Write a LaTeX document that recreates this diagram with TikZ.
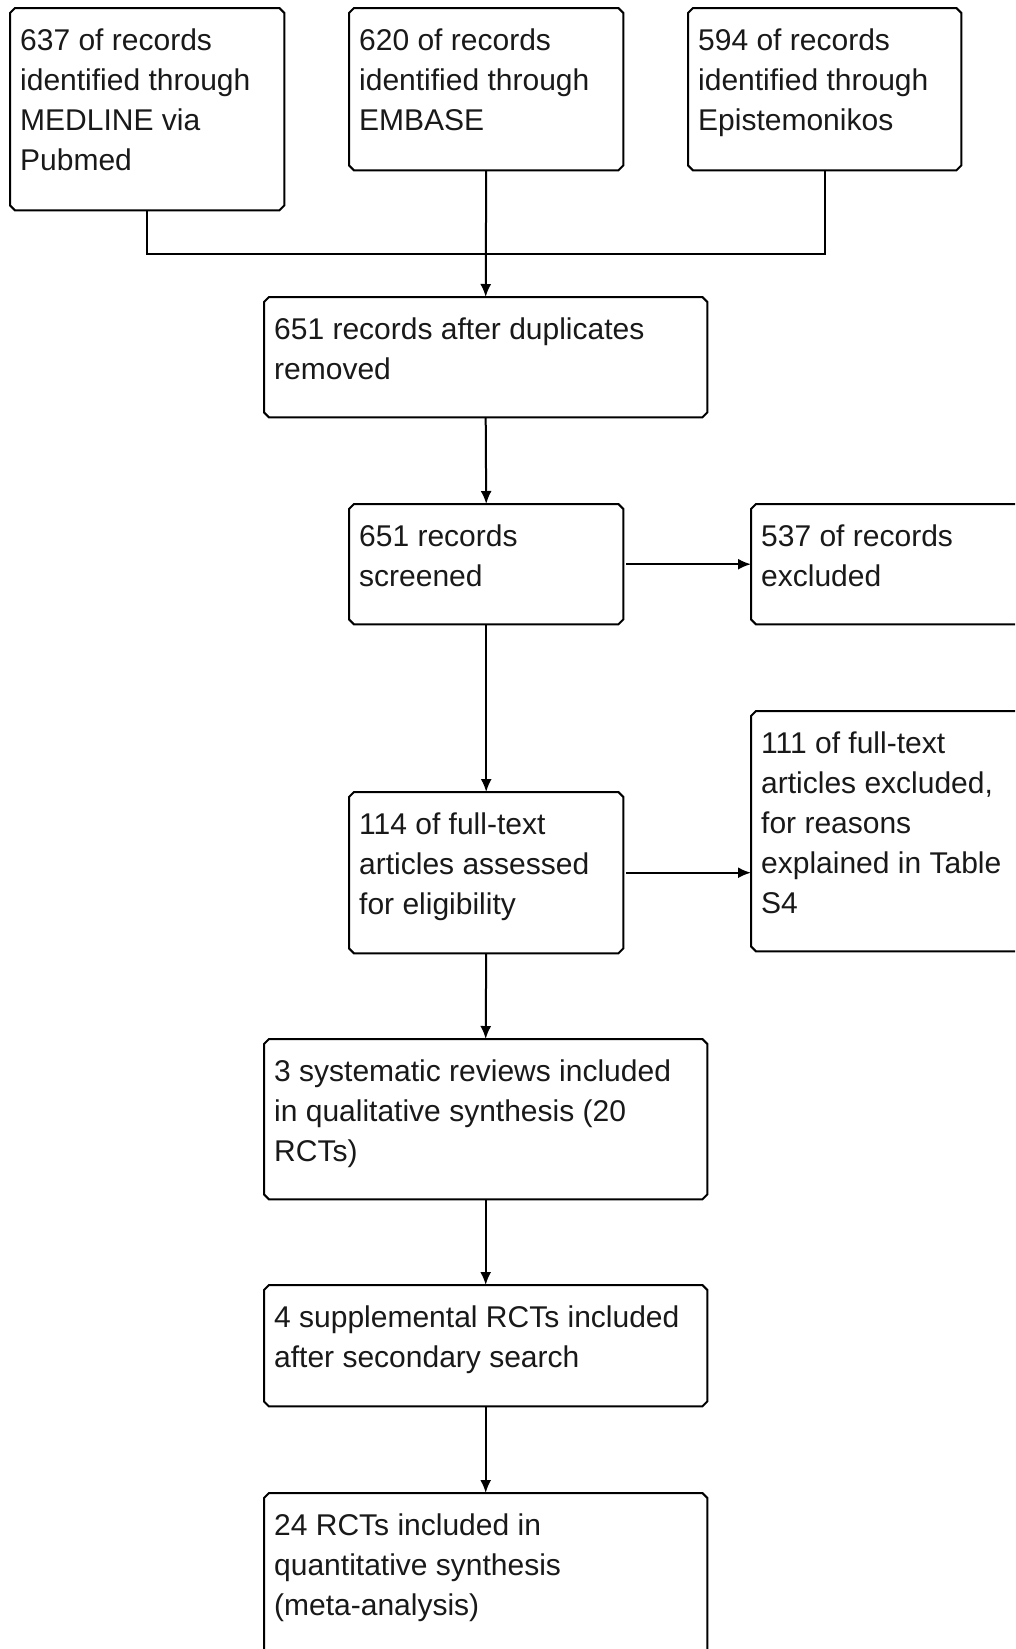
\documentclass[tikz,border=0pt]{standalone}
\usepackage{fontspec}
\setmainfont{Liberation Sans}
\usetikzlibrary{arrows.meta}
\tikzset{
  rec/.style={rectangle, inner sep=0pt, anchor=north west,
    append after command={\pgfextra{
      \draw[line width=2pt, draw=black, line join=miter]
        ([xshift=5pt]\tikzlastnode.north west) -- ([xshift=-5pt]\tikzlastnode.north east)
        -- ([yshift=-5pt]\tikzlastnode.north east) -- ([yshift=5pt]\tikzlastnode.south east)
        -- ([xshift=-5pt]\tikzlastnode.south east) -- ([xshift=5pt]\tikzlastnode.south west)
        -- ([yshift=5pt]\tikzlastnode.south west) -- ([yshift=-5pt]\tikzlastnode.north west)
        -- cycle;}}},
  txt/.style={anchor=base west, inner sep=0pt,
    font=\fontsize{30}{40}\selectfont, text=black!90},
  arr/.style={-{Latex[length=13pt,width=11pt]}, line width=2pt, draw=black},
  link/.style={line width=2pt, draw=black},
}
\newcommand{\boxlines}[1]{\begin{tabular}[t]{@{}l@{}}#1\end{tabular}}

\begin{document}
\begin{tikzpicture}[x=1pt, y=-1pt]
\clip (0,0) rectangle (1015,1649);
\fill[white] (0,0) rectangle (1015,1649);

% sources
\node[rec, minimum width=274pt, minimum height=202pt] (srcA) at (10,8) {};
\node[txt] (srcA-t) at ([shift={(10,42)}]srcA.north west)
  {\boxlines{637 of records\\identified through\\MEDLINE via\\Pubmed}};
\node[rec, minimum width=274pt, minimum height=162pt] (srcB) at (349,8) {};
\node[txt] (srcB-t) at ([shift={(10,42)}]srcB.north west)
  {\boxlines{620 of records\\identified through\\EMBASE}};
\node[rec, minimum width=273pt, minimum height=162pt] (srcC) at (688,8) {};
\node[txt] (srcC-t) at ([shift={(10,42)}]srcC.north west)
  {\boxlines{594 of records\\identified through\\Epistemonikos}};

% main column
\node[rec, minimum width=443pt, minimum height=120pt] (dedup) at (264,297) {};
\node[txt] (dedup-t) at ([shift={(10,42)}]dedup.north west)
  {\boxlines{651 records after duplicates\\removed}};
\node[rec, minimum width=274pt, minimum height=120pt] (screen) at (349,504) {};
\node[txt] (screen-t) at ([shift={(10,42)}]screen.north west)
  {\boxlines{651 records\\screened}};
\node[rec, minimum width=274pt, minimum height=161pt] (full) at (349,792) {};
\node[txt] (full-t) at ([shift={(10,42)}]full.north west)
  {\boxlines{114 of full-text\\articles assessed\\for eligibility}};
\node[rec, minimum width=443pt, minimum height=160pt] (sysrev) at (264,1039) {};
\node[txt] (sysrev-t) at ([shift={(10,42)}]sysrev.north west)
  {\boxlines{3 systematic reviews included\\in qualitative synthesis (20\\RCTs)}};
\node[rec, minimum width=443pt, minimum height=121pt] (supp) at (264,1285) {};
\node[txt] (supp-t) at ([shift={(10,42)}]supp.north west)
  {\boxlines{4 supplemental RCTs included\\after secondary search}};
\node[rec, minimum width=443pt, minimum height=180pt] (quant) at (264,1493) {};
\node[txt] (quant-t) at ([shift={(10,42)}]quant.north west)
  {\boxlines{24 RCTs included in\\quantitative synthesis\\(meta-analysis)}};

% exclusions
\node[rec, minimum width=300pt, minimum height=120pt] (excl1) at (751,504) {};
\node[txt] (excl1-t) at ([shift={(10,42)}]excl1.north west)
  {\boxlines{537 of records\\excluded}};
\node[rec, minimum width=300pt, minimum height=240pt] (excl2) at (751,711) {};
\node[txt] (excl2-t) at ([shift={(10,42)}]excl2.north west)
  {\boxlines{111 of full-text\\articles excluded,\\for reasons\\explained in Table\\S4}};

% connectors
\coordinate (join) at (srcB.south |- 0,254);
\draw[link] (srcA.south) |- (join) -| (srcC.south);
\draw[arr] (srcB.south) -- (dedup.north);
\draw[arr] (dedup.south) -- (screen.north);
\draw[arr] (screen.south) -- (full.north);
\draw[arr] (full.south) -- (sysrev.north);
\draw[arr] (sysrev.south) -- (supp.north);
\draw[arr] (supp.south) -- (quant.north);
\draw[arr, shorten <=3pt] (screen.east) -- (excl1.west);
\draw[arr, shorten <=3pt] (full.east) -- (full.east -| excl2.west);
\end{tikzpicture}
\end{document}
